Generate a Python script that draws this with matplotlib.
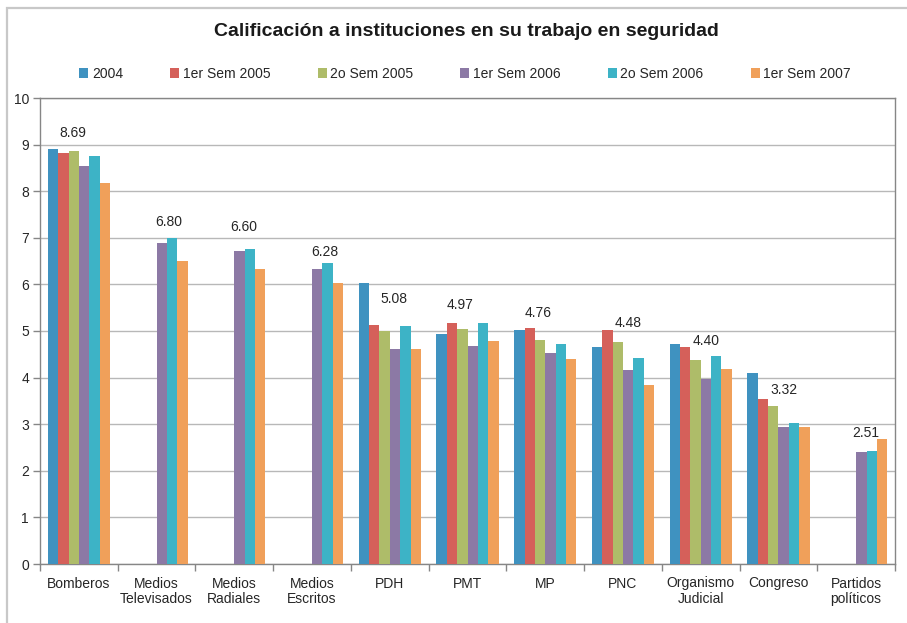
import matplotlib
matplotlib.use("Agg")
import matplotlib.pyplot as plt
from matplotlib.patches import Rectangle
import numpy as np

plt.rcParams["font.family"] = ["Liberation Sans", "DejaVu Sans"]

categories = ["Bomberos", "Medios\nTelevisados", "Medios\nRadiales", "Medios\nEscritos",
              "PDH", "PMT", "MP", "PNC", "Organismo\nJudicial", "Congreso", "Partidos\npolíticos"]
series_names = ["2004", "1er Sem 2005", "2o Sem 2005", "1er Sem 2006", "2o Sem 2006", "1er Sem 2007"]
series_colors = ["#3F92C0", "#D5605A", "#AEBC69", "#8C79A5", "#3DB3C6", "#F0A05A"]

nan = np.nan
s2004 = [8.91, nan, nan, nan, 6.03, 4.94, 5.02, 4.66, 4.72, 4.10, nan]
s2005a = [8.82, nan, nan, nan, 5.13, 5.17, 5.06, 5.02, 4.66, 3.54, nan]
s2005b = [8.86, nan, nan, nan, 4.99, 5.04, 4.81, 4.76, 4.38, 3.39, nan]
s2006a = [8.54, 6.89, 6.72, 6.33, 4.61, 4.68, 4.53, 4.16, 3.97, 2.94, 2.40]
s2006b = [8.76, 7.00, 6.76, 6.46, 5.11, 5.17, 4.72, 4.42, 4.46, 3.03, 2.42]
s2007a = [8.18, 6.50, 6.33, 6.03, 4.61, 4.79, 4.40, 3.84, 4.18, 2.94, 2.68]

# promedio por institucion, mostrado sobre cada grupo
promedios = [8.69, 6.80, 6.60, 6.28, 5.08, 4.97, 4.76, 4.48, 4.40, 3.32, 2.51]
# desplazamiento de cada etiqueta (puntos)
label_offsets = [(-4, 19), (9, 18), (7, 21), (9, 14), (3, 20), (-5, 20),
                 (-5, 21), (4, 23), (4, 13), (4, 14), (7, 10)]

series = [s2004, s2005a, s2005b, s2006a, s2006b, s2007a]

fig = plt.figure(figsize=(9.07, 6.23), dpi=100)
ax = fig.add_axes([40 / 907, 59 / 623, 855 / 907, 466 / 623])

x = np.arange(len(categories))
group_w = 0.8
bar_w = group_w / len(series)
handles = []
for i, (vals, name, col) in enumerate(zip(series, series_names, series_colors)):
    pos = x - group_w / 2 + bar_w * (i + 0.5)
    bars = ax.bar(pos, vals, width=bar_w, color=col, label=name, zorder=3)
    handles.append(bars)

for xi, val, (dx, dy) in zip(x, promedios, label_offsets):
    ax.annotate(f"{val:.2f}", xy=(xi, val), xytext=(dx, dy), textcoords="offset points",
                ha="center", va="center", fontsize=10, color="#262626")

ax.set_xlim(-0.5, len(categories) - 0.5)
ax.set_ylim(0, 10)
ax.set_yticks(range(0, 11))
ax.yaxis.grid(True, color="#B8B8B8", linewidth=1.0, zorder=0)
ax.set_axisbelow(True)

# categorias centradas, marcas entre grupos
ax.set_xticks(x)
ax.set_xticklabels(categories, fontsize=10, color="#262626", linespacing=1.15)
ax.tick_params(axis="x", length=0, pad=9)
ax.set_xticks(np.arange(-0.5, len(categories)), minor=True)
ax.tick_params(axis="x", which="minor", length=5, color="#868686", width=1)
ax.tick_params(axis="y", length=5, color="#868686", width=1, labelsize=10,
               labelcolor="#262626", pad=3)

for sp in ax.spines.values():
    sp.set_color("#868686")
    sp.set_linewidth(1.0)

fig.text(466 / 907, 1 - 31 / 623, "Calificación a instituciones en su trabajo en seguridad",
         ha="center", va="center", fontsize=14, fontweight="bold", color="#1a1a1a")

fig.legend(handles=handles, labels=series_names, loc="center", ncol=6,
           bbox_to_anchor=(465 / 907, 1 - 74 / 623), frameon=False, fontsize=10,
           handlelength=0.65, handleheight=0.65, handletextpad=0.25, columnspacing=3.4,
           labelcolor="#262626")

# marco exterior del grafico
fig.patches.append(Rectangle((7 / 907, -0.1), 1.2, 1.1 - 8 / 623, transform=fig.transFigure,
                             fill=False, edgecolor="#C8C8C8", linewidth=1.6))

fig.savefig("out.png", dpi=100)
